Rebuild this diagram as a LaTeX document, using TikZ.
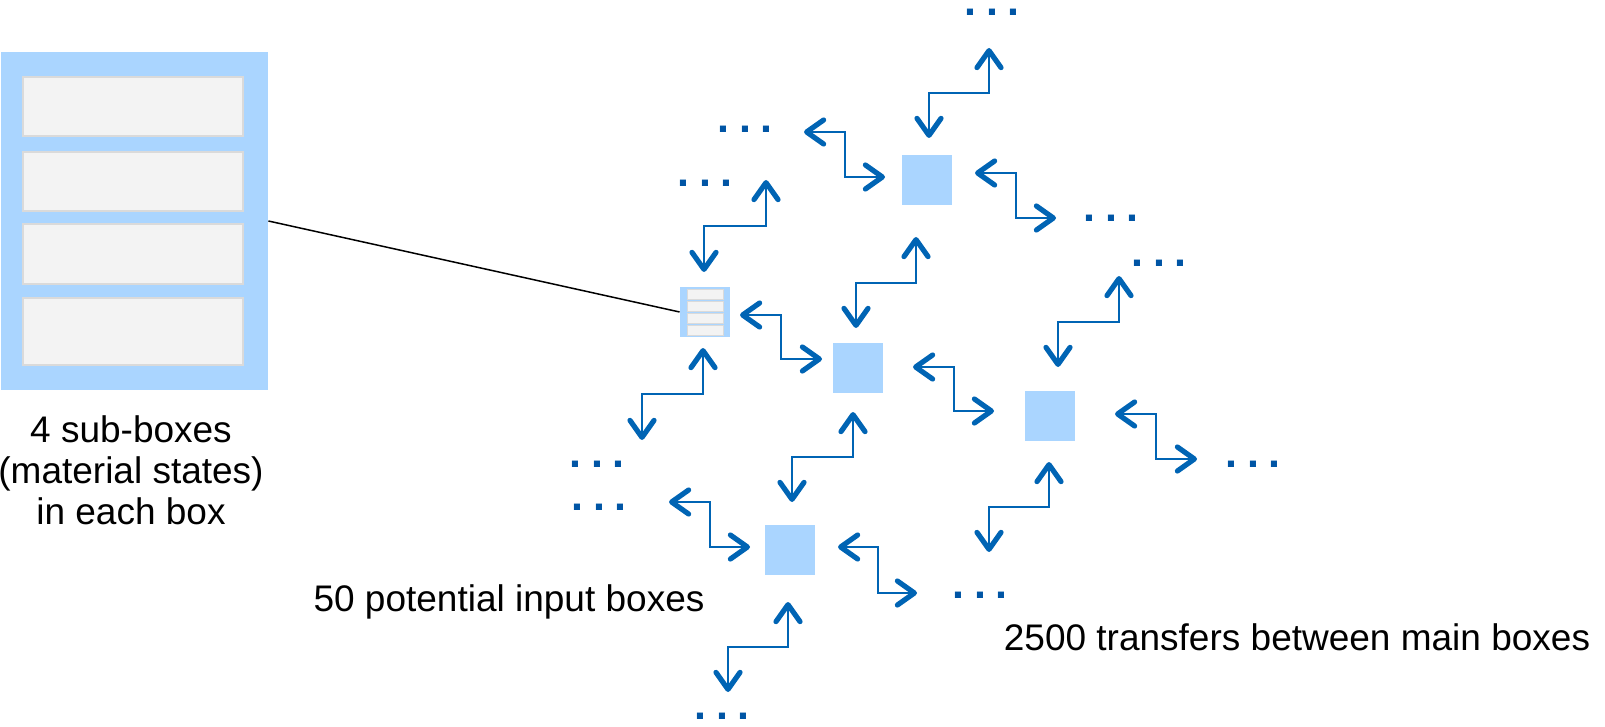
\documentclass[tikz,border=0pt]{standalone}
\usepackage{fontspec}
\setmainfont{Liberation Sans}
\usetikzlibrary{arrows.meta,calc}
\definecolor{boxblue}{RGB}{170,213,255}
\definecolor{linkblue}{RGB}{0,100,180}
\definecolor{dotblue}{RGB}{0,85,165}
\definecolor{subfill}{RGB}{243,243,243}
\definecolor{subline}{RGB}{218,218,218}
\newcommand{\threedots}{.\hspace{4.75pt}.\hspace{4.75pt}.}

\begin{document}
\begin{tikzpicture}[x=0.5pt,y=-0.5pt,
    mainbox/.style={fill=boxblue, minimum size=25pt, inner sep=0pt},
    subbox/.style={fill=subfill, draw=subline, line width=0.6pt},
    linkarrow/.style={draw=linkblue, line width=1pt,
      {Straight Barb[length=8.5pt,width=12pt,line width=2.6pt,round]}-{Straight Barb[length=8.5pt,width=12pt,line width=2.6pt,round]}},
    dotrow/.style={text=dotblue, font=\fontsize{21.5pt}{21.5pt}\selectfont\bfseries, inner sep=0pt, anchor=base},
    caption/.style={font=\fontsize{18.5pt}{20.5pt}\selectfont, inner sep=0pt}]
        \useasboundingbox (0,0) rectangle (1605,727);

        % big box with its four sub-boxes
        \node [fill=boxblue, minimum width=133.5pt, minimum height=169pt, inner sep=0pt] (bigbox) at (134.5,221) {};
        \foreach \ya/\yb in {77/136,152/211,224/284,298/365}
            \draw [subbox] (23,\ya) rectangle (243,\yb);

        % small input box
        \node [mainbox] (boxE) at (705,312) {};
        \foreach \ya/\yb in {289/299,301/311,313/323,325/335}
            \draw [subbox, line width=0.5pt] (687,\ya) rectangle (723,\yb);

        % zoom line
        \draw [line width=0.75pt] (bigbox.east) -- (boxE.west);

        % main boxes
        \node [mainbox] (boxA) at (927,180) {};
        \node [mainbox] (boxB) at (858,368) {};
        \node [mainbox] (boxC) at (1050,416) {};
        \node [mainbox] (boxD) at (790,550) {};

        % dots
        \node [dotrow] (dotsN) at (992,16) {\threedots};
        \node [dotrow] (dotsNW) at (745,133) {\threedots};
        \node [dotrow] (dotsNWW) at (705,187) {\threedots};
        \node [dotrow] (dotsE) at (1111,222) {\threedots};
        \node [dotrow] (dotsNE) at (1159,266) {\threedots};
        \node [dotrow] (dotsEE) at (1253,467) {\threedots};
        \node [dotrow] (dotsW) at (597,467) {\threedots};
        \node [dotrow] (dotsWW) at (599,510) {\threedots};
        \node [dotrow] (dotsS) at (980,598) {\threedots};
        \node [dotrow] (dotsSS) at (722,719) {\threedots};

        % link ends, horizontal
        \coordinate (h1w) at (804,132);  \coordinate (h1e) at (885,177);
        \coordinate (h2w) at (975,173);  \coordinate (h2e) at (1056,218);
        \coordinate (h3w) at (740,315);  \coordinate (h3e) at (822,359);
        \coordinate (h4w) at (913,367);  \coordinate (h4e) at (994,411);
        \coordinate (h5w) at (1115,414); \coordinate (h5e) at (1197,459);
        \coordinate (h6w) at (669,502);  \coordinate (h6e) at (750,547);
        \coordinate (h7w) at (838,547);  \coordinate (h7e) at (917,593);
        % link ends, vertical
        \coordinate (v1n) at (989,48);   \coordinate (v1s) at (929,138);
        \coordinate (v2n) at (766,180);  \coordinate (v2s) at (704,272);
        \coordinate (v3n) at (916,237);  \coordinate (v3s) at (856,328);
        \coordinate (v4n) at (1119,276); \coordinate (v4s) at (1058,367);
        \coordinate (v5n) at (703,348);  \coordinate (v5s) at (642,440);
        \coordinate (v6n) at (853,412);  \coordinate (v6s) at (792,502);
        \coordinate (v7n) at (1049,462); \coordinate (v7s) at (989,552);
        \coordinate (v8n) at (788,602);  \coordinate (v8s) at (728,692);

        % transfers
        \draw [linkarrow] (h1w) -| ($(h1w)!.5!(h1e)$) |- (h1e);
        \draw [linkarrow] (h2w) -| ($(h2w)!.5!(h2e)$) |- (h2e);
        \draw [linkarrow] (h3w) -| ($(h3w)!.5!(h3e)$) |- (h3e);
        \draw [linkarrow] (h4w) -| ($(h4w)!.5!(h4e)$) |- (h4e);
        \draw [linkarrow] (h5w) -| ($(h5w)!.5!(h5e)$) |- (h5e);
        \draw [linkarrow] (h6w) -| ($(h6w)!.5!(h6e)$) |- (h6e);
        \draw [linkarrow] (h7w) -| ($(h7w)!.5!(h7e)$) |- (h7e);
        \draw [linkarrow] (v1n) |- ($(v1n)!.5!(v1s)$) -| (v1s);
        \draw [linkarrow] (v2n) |- ($(v2n)!.5!(v2s)$) -| (v2s);
        \draw [linkarrow] (v3n) |- ($(v3n)!.5!(v3s)$) -| (v3s);
        \draw [linkarrow] (v4n) |- ($(v4n)!.5!(v4s)$) -| (v4s);
        \draw [linkarrow] (v5n) |- ($(v5n)!.5!(v5s)$) -| (v5s);
        \draw [linkarrow] (v6n) |- ($(v6n)!.5!(v6s)$) -| (v6s);
        \draw [linkarrow] (v7n) |- ($(v7n)!.5!(v7s)$) -| (v7s);
        \draw [linkarrow] (v8n) |- ($(v8n)!.5!(v8s)$) -| (v8s);

        % text
        \node [caption, align=center] (subtext) at (131,470) {4 sub-boxes\\(material states)\\in each box};
        \node [caption] (inputtext) at (509,602) {50 potential input boxes};
        \node [caption] (transtext) at (1297,637) {2500 transfers between main boxes};
\end{tikzpicture}
\end{document}
